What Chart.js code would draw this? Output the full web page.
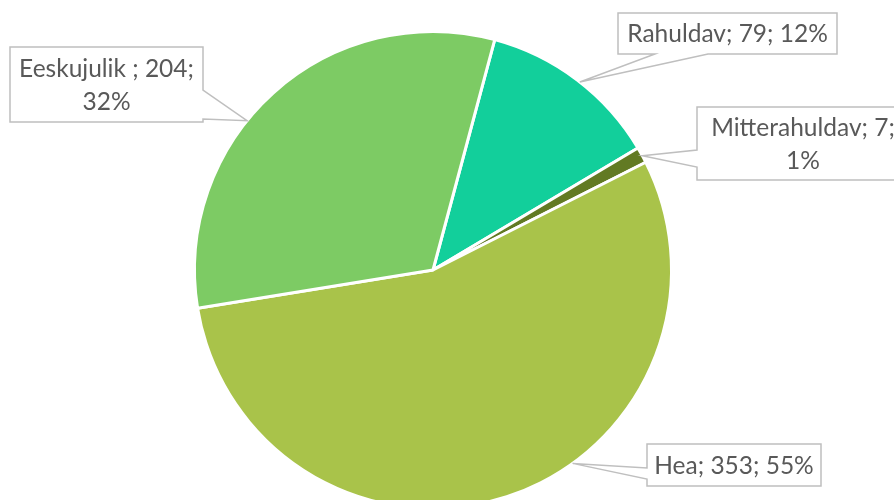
<!DOCTYPE html>
<html>
<head>
<meta charset="utf-8">
<script src="https://cdn.jsdelivr.net/npm/chart.js@4/dist/chart.umd.min.js"></script>
<style>
  html, body { margin: 0; padding: 0; background: #fff; overflow: hidden; }
  #wrap { width: 894px; height: 500px; overflow: hidden; }
</style>
</head>
<body>
<div id="wrap"><canvas id="pie" width="894" height="540"></canvas></div>
<script>
// data
const categories = ['Rahuldav', 'Mitterahuldav', 'Hea', 'Eeskujulik '];
const counts = [79, 7, 353, 204];
const colors = ['#12CF9B', '#627A23', '#A9C34A', '#7DCB64'];

// callout boxes (pixels), side where the pointer attaches, pointer base points, where on the slice it points
const callouts = [
    { x: 618, y: 13, w: 219, h: 41, side: 'bottom', p1: 655, p2: 708, frac: 0.52 },
    { x: 697, y: 107, w: 212, h: 73, side: 'left', p1: 150, p2: 167, frac: 0.55 },
    { x: 647, y: 444, w: 174, h: 42, side: 'left', p1: 468, p2: 479, frac: 0.41 },
    { x: 10, y: 47, w: 193, h: 75, side: 'right', p1: 90, p2: 119, frac: 0.42 }
];

const total = counts.reduce((a, b) => a + b, 0);
const FONT = '24.5px Lato';

function wrapText(ctx, text, maxW) {
    const words = text.split(' ');
    let lines = [], cur = '';
    words.forEach(w => {
        const test = cur ? cur + ' ' + w : w;
        if (ctx.measureText(test).width > maxW && cur) {
            lines.push(cur);
            cur = w;
        } else {
            cur = test;
        }
    });
    lines.push(cur);
    return lines;
}

const calloutPlugin = {
    id: 'callouts',
    afterDraw(chart) {
        const ctx = chart.ctx;
        const meta = chart.getDatasetMeta(0);
        ctx.save();
        ctx.font = FONT;
        meta.data.forEach((arc, i) => {
            const c = callouts[i];
            const ang = arc.startAngle + c.frac * (arc.endAngle - arc.startAngle);
            const tx = arc.x + Math.cos(ang) * arc.outerRadius;
            const ty = arc.y + Math.sin(ang) * arc.outerRadius;
            const x0 = c.x, y0 = c.y, x1 = c.x + c.w, y1 = c.y + c.h;

            ctx.beginPath();
            ctx.moveTo(x0, y0);
            ctx.lineTo(x1, y0);
            if (c.side === 'right') {
                ctx.lineTo(x1, c.p1);
                ctx.lineTo(tx, ty);
                ctx.lineTo(x1, c.p2);
            }
            ctx.lineTo(x1, y1);
            if (c.side === 'bottom') {
                ctx.lineTo(c.p2, y1);
                ctx.lineTo(tx, ty);
                ctx.lineTo(c.p1, y1);
            }
            ctx.lineTo(x0, y1);
            if (c.side === 'left') {
                ctx.lineTo(x0, c.p2);
                ctx.lineTo(tx, ty);
                ctx.lineTo(x0, c.p1);
            }
            ctx.closePath();
            ctx.fillStyle = '#fff';
            ctx.fill();
            ctx.strokeStyle = '#BFBFBF';
            ctx.lineWidth = 1.5;
            ctx.stroke();

            const pct = Math.round(counts[i] / total * 100);
            const text = categories[i] + '; ' + counts[i] + '; ' + pct + '%';
            const lines = wrapText(ctx, text, c.w - 8);
            const lh = 33;
            ctx.fillStyle = '#595959';
            ctx.textAlign = 'center';
            ctx.textBaseline = 'middle';
            const cx = (x0 + x1) / 2;
            const startY = (y0 + y1) / 2 - (lines.length - 1) * lh / 2 + 1;
            lines.forEach((ln, k) => ctx.fillText(ln, cx, startY + k * lh));
        });
        ctx.restore();
    }
};

new Chart(document.getElementById('pie'), {
    type: 'pie',
    data: {
        labels: categories,
        datasets: [{
            data: counts,
            backgroundColor: colors,
            borderColor: '#fff',
            borderWidth: 3
        }]
    },
    options: {
        responsive: false,
        animation: false,
        rotation: 15,
        layout: { padding: { left: 193, right: 221, top: 30, bottom: 30 } },
        plugins: {
            legend: { display: false },
            tooltip: { enabled: false }
        }
    },
    plugins: [calloutPlugin]
});
</script>
</body>
</html>
